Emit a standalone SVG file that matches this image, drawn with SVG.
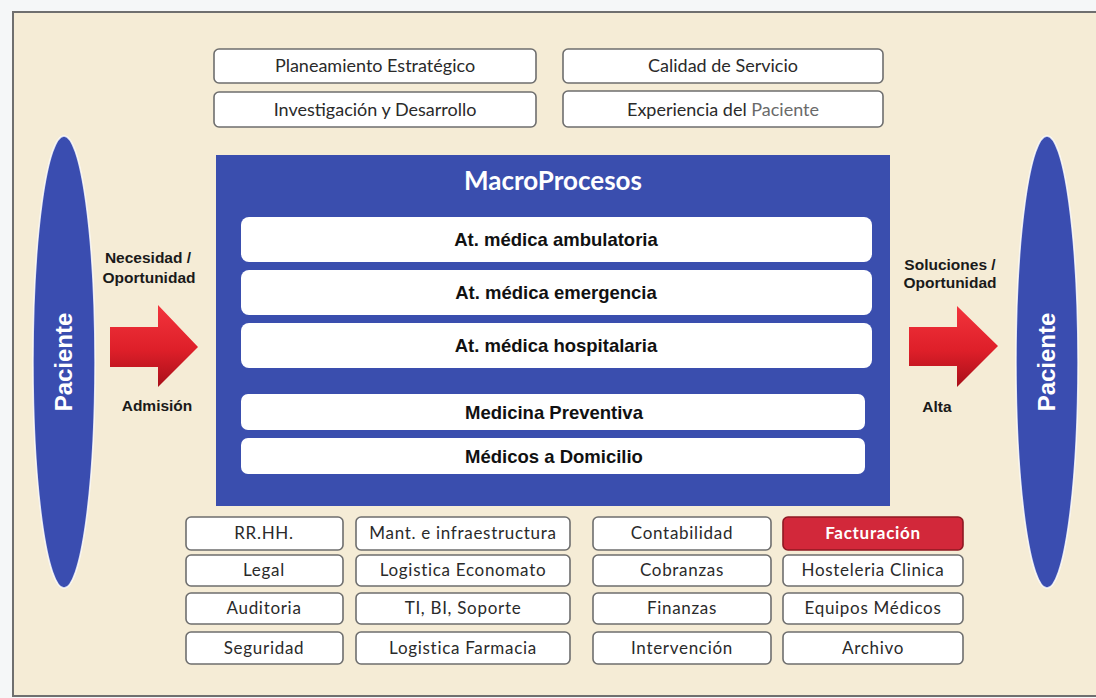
<svg xmlns="http://www.w3.org/2000/svg" width="1096" height="698" viewBox="0 0 1096 698">
  <style>
    .box { fill: #ffffff; stroke: #6e6e6e; stroke-width: 1.6; }
    .lbl { font-family: Lato, "Open Sans", sans-serif; font-size: 18px; fill: #2a2a2a; text-anchor: middle; }
    .sup { font-family: Lato, "Open Sans", sans-serif; font-size: 17px; letter-spacing: 0.7px; fill: #2a2a2a; text-anchor: middle; }
    .row { fill: #ffffff; }
    .rowtxt { font-family: "Liberation Sans", Arial, sans-serif; font-weight: bold; font-size: 18.5px; fill: #111111; text-anchor: middle; }
    .side { font-family: "Liberation Sans", Arial, sans-serif; font-weight: bold; font-size: 15.5px; fill: #1a1a1a; text-anchor: middle; }
    .pac { font-family: "Liberation Sans", Arial, sans-serif; font-weight: bold; font-size: 24px; fill: #ffffff; text-anchor: middle; }
    .oval { fill: #3a4db0; stroke: #ffffff; stroke-width: 1.5; stroke-opacity: 0.8; }
  </style>
  <defs>
    <linearGradient id="redArrow" x1="0" y1="0" x2="0" y2="1">
      <stop offset="0" stop-color="#f2343c"/>
      <stop offset="0.55" stop-color="#de1f29"/>
      <stop offset="1" stop-color="#a80f19"/>
    </linearGradient>
  </defs>

  <!-- page and frame -->
  <rect x="0" y="0" width="1096" height="698" fill="#f5f7f8"/>
  <rect x="13" y="12" width="1100" height="684" fill="#f5ecd6" stroke="#6f6f6f" stroke-width="2"/>

  <!-- patient ovals -->
  <g id="paciente-in">
    <ellipse class="oval" cx="64" cy="362" rx="31" ry="226"/>
    <text class="pac" transform="translate(72 362) rotate(-90)">Paciente</text>
  </g>
  <g id="paciente-out">
    <ellipse class="oval" cx="1047" cy="362" rx="31" ry="226"/>
    <text class="pac" transform="translate(1055 362) rotate(-90)">Paciente</text>
  </g>

  <!-- strategic boxes -->
  <g id="planeamiento">
    <rect class="box" x="214" y="49" width="322" height="34" rx="5"/>
    <text class="lbl" x="375" y="72">Planeamiento Estratégico</text>
  </g>
  <g id="investigacion">
    <rect class="box" x="214" y="92" width="322" height="35" rx="5"/>
    <text class="lbl" x="375" y="116">Investigación y Desarrollo</text>
  </g>
  <g id="calidad">
    <rect class="box" x="563" y="49" width="320" height="34" rx="5"/>
    <text class="lbl" x="723" y="72">Calidad de Servicio</text>
  </g>
  <g id="experiencia">
    <rect class="box" x="563" y="91" width="320" height="36" rx="5"/>
    <text class="lbl" x="723" y="116">Experiencia del <tspan fill="#6a6a6a">Paciente</tspan></text>
  </g>

  <!-- macro processes -->
  <g id="macroprocesos">
    <rect x="216" y="155" width="674" height="351" fill="#3a4eae"/>
    <text x="553" y="190" font-family="Lato, 'Open Sans', sans-serif" font-weight="bold" font-size="26" fill="#ffffff" text-anchor="middle">MacroProcesos</text>
    <g id="ambulatoria">
      <rect class="row" x="241" y="217" width="631" height="45" rx="8"/>
      <text class="rowtxt" x="556" y="246">At. médica ambulatoria</text>
    </g>
    <g id="emergencia">
      <rect class="row" x="241" y="270" width="631" height="45" rx="8"/>
      <text class="rowtxt" x="556" y="299">At. médica emergencia</text>
    </g>
    <g id="hospitalaria">
      <rect class="row" x="241" y="323" width="631" height="45" rx="8"/>
      <text class="rowtxt" x="556" y="352">At. médica hospitalaria</text>
    </g>
    <g id="preventiva">
      <rect class="row" x="241" y="394" width="624" height="36" rx="7"/>
      <text class="rowtxt" x="554" y="419">Medicina Preventiva</text>
    </g>
    <g id="domicilio">
      <rect class="row" x="241" y="438" width="624" height="36" rx="7"/>
      <text class="rowtxt" x="554" y="463">Médicos a Domicilio</text>
    </g>
  </g>

  <!-- flow arrows and their labels -->
  <g id="connectors">
    <g id="entrada">
      <path d="M110 327 H158 V305 L198 347 L158 387 V367 H110 Z" fill="url(#redArrow)"/>
      <text class="side" x="148" y="263">Necesidad /</text>
      <text class="side" x="149" y="283">Oportunidad</text>
      <text class="side" x="157" y="411">Admisión</text>
    </g>
    <g id="salida">
      <path d="M909 327 H957 V306 L998 346 L957 387 V366 H909 Z" fill="url(#redArrow)"/>
      <text class="side" x="950" y="270">Soluciones /</text>
      <text class="side" x="950" y="288">Oportunidad</text>
      <text class="side" x="937" y="412">Alta</text>
    </g>
  </g>

  <!-- support processes -->
  <g id="rrhh"><rect class="box" x="186" y="517" width="157" height="33" rx="5"/><text class="sup" x="264" y="539">RR.HH.</text></g>
  <g id="legal"><rect class="box" x="186" y="555" width="157" height="31" rx="5"/><text class="sup" x="264" y="576">Legal</text></g>
  <g id="auditoria"><rect class="box" x="186" y="593" width="157" height="31" rx="5"/><text class="sup" x="264" y="614">Auditoria</text></g>
  <g id="seguridad"><rect class="box" x="186" y="632" width="157" height="32" rx="5"/><text class="sup" x="264" y="654">Seguridad</text></g>

  <g id="mantenimiento"><rect class="box" x="356" y="517" width="214" height="33" rx="5"/><text class="sup" x="463" y="539">Mant. e infraestructura</text></g>
  <g id="economato"><rect class="box" x="356" y="555" width="214" height="31" rx="5"/><text class="sup" x="463" y="576">Logistica Economato</text></g>
  <g id="ti"><rect class="box" x="356" y="593" width="214" height="31" rx="5"/><text class="sup" x="463" y="614">TI, BI, Soporte</text></g>
  <g id="farmacia"><rect class="box" x="356" y="632" width="214" height="32" rx="5"/><text class="sup" x="463" y="654">Logistica Farmacia</text></g>

  <g id="contabilidad"><rect class="box" x="593" y="517" width="178" height="33" rx="5"/><text class="sup" x="682" y="539">Contabilidad</text></g>
  <g id="cobranzas"><rect class="box" x="593" y="555" width="178" height="31" rx="5"/><text class="sup" x="682" y="576">Cobranzas</text></g>
  <g id="finanzas"><rect class="box" x="593" y="593" width="178" height="31" rx="5"/><text class="sup" x="682" y="614">Finanzas</text></g>
  <g id="intervencion"><rect class="box" x="593" y="632" width="178" height="32" rx="5"/><text class="sup" x="682" y="654">Intervención</text></g>

  <g id="facturacion"><rect x="783" y="517" width="180" height="33" rx="5" fill="#d2283a" stroke="#8e1822" stroke-width="1.6"/><text class="sup" x="873" y="539" font-weight="bold" style="fill:#ffffff">Facturación</text></g>
  <g id="hosteleria"><rect class="box" x="783" y="555" width="180" height="31" rx="5"/><text class="sup" x="873" y="576">Hosteleria Clinica</text></g>
  <g id="equipos"><rect class="box" x="783" y="593" width="180" height="31" rx="5"/><text class="sup" x="873" y="614">Equipos Médicos</text></g>
  <g id="archivo"><rect class="box" x="783" y="632" width="180" height="32" rx="5"/><text class="sup" x="873" y="654">Archivo</text></g>
</svg>
